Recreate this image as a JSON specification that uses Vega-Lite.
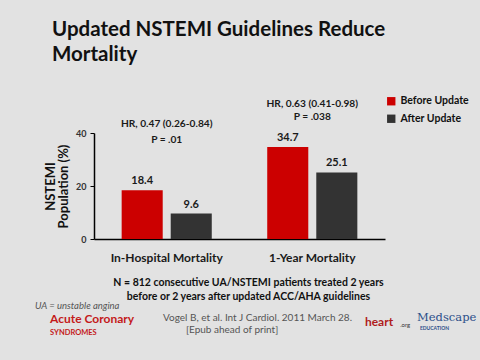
{
  "$schema": "https://vega.github.io/schema/vega-lite/v6.json",
  "width": 291,
  "height": 106,
  "autosize": {"type": "none"},
  "padding": {"left": 94, "top": 133, "right": 95, "bottom": 121},
  "background": "#e2e2e2",
  "title": {
    "text": ["Updated NSTEMI Guidelines Reduce", "Mortality"],
    "anchor": "start",
    "frame": "group",
    "font": "Lato",
    "fontSize": 20.5,
    "fontWeight": "bold",
    "color": "#111111",
    "lineHeight": 25,
    "dx": -42,
    "dy": -21,
    "offset": 10
  },
  "config": {
    "view": {"stroke": null},
    "font": "Lato",
    "text": {"font": "Lato"}
  },
  "datasets": {
    "bars": [
      {"outcome": "In-Hospital Mortality", "period": "Before Update", "value": 18.4},
      {"outcome": "In-Hospital Mortality", "period": "After Update", "value": 9.6},
      {"outcome": "1-Year Mortality", "period": "Before Update", "value": 34.7},
      {"outcome": "1-Year Mortality", "period": "After Update", "value": 25.1}
    ],
    "hr": [
      {"outcome": "In-Hospital Mortality", "y": 43.4, "label": "HR, 0.47 (0.26-0.84)"},
      {"outcome": "In-Hospital Mortality", "y": 37.4, "label": "P = .01"},
      {"outcome": "1-Year Mortality", "y": 50.9, "label": "HR, 0.63 (0.41-0.98)"},
      {"outcome": "1-Year Mortality", "y": 46.0, "label": "P = .038"}
    ],
    "ua": [{"x": -20.3, "y": -25.1, "label": "UA = unstable angina"}],
    "logo1": [{"x": -15.1, "y": -30.3, "label": "Acute Coronary"}],
    "logo1b": [{"x": -15.1, "y": -35.6, "label": "SYNDROMES"}],
    "cite": [
      {"x": 23.7, "y": -29.8, "label": "Vogel B, et al. Int J Cardiol. 2011 March 28."},
      {"x": 31.6, "y": -34.3, "label": "[Epub ahead of print]"}
    ],
    "logo2": [{"x": 93.1, "y": -31.3, "label": "heart"}],
    "logo2b": [{"x": 105.2, "y": -32.3, "label": ".org"}],
    "logo3": [{"x": 111.0, "y": -29.8, "label": "Medscape"}],
    "logo3b": [{"x": 112.0, "y": -33.6, "label": "EDUCATION"}]
  },
  "layer": [
    {
      "layer": [
        {
          "data": {"name": "bars"},
          "mark": {"type": "bar"},
          "encoding": {
            "x": {
              "field": "outcome",
              "type": "nominal",
              "sort": ["In-Hospital Mortality", "1-Year Mortality"],
              "scale": {"paddingInner": 0.381, "paddingOuter": 0.19},
              "axis": {
                "title": ["N = 812 consecutive UA/NSTEMI patients treated 2 years", "before or 2 years after updated ACC/AHA guidelines"],
                "titleFont": "Lato",
                "titleFontSize": 10.5,
                "titleFontWeight": "bold",
                "titleColor": "#111111",
                "titleLineHeight": 14,
                "titlePadding": 14,
                "titleX": 154,
                "labelAngle": 0,
                "labelFont": "Lato",
                "labelFontSize": 12,
                "labelFontWeight": "bold",
                "labelColor": "#1a1a1a",
                "labelPadding": 13,
                "ticks": false,
                "domainColor": "#000000",
                "domainWidth": 1.5
              }
            },
            "xOffset": {
              "field": "period",
              "type": "nominal",
              "sort": ["Before Update", "After Update"],
              "scale": {"paddingInner": 0.163, "paddingOuter": 0}
            },
            "y": {
              "field": "value",
              "type": "quantitative",
              "scale": {"domain": [0, 40], "nice": false},
              "axis": {
                "values": [0, 20, 40],
                "grid": false,
                "title": ["NSTEMI", "Population (%)"],
                "titleFont": "Lato",
                "titleFontSize": 13,
                "titleFontWeight": "bold",
                "titleColor": "#111111",
                "titleLineHeight": 13,
                "titlePadding": 5,
                "labelFont": "Lato",
                "labelFontSize": 9,
                "labelFontWeight": "bold",
                "labelColor": "#333333",
                "labelPadding": 4,
                "tickSize": 4,
                "tickColor": "#000000",
                "domainColor": "#000000",
                "domainWidth": 1.5
              }
            },
            "color": {
              "field": "period",
              "type": "nominal",
              "scale": {"domain": ["Before Update", "After Update"], "range": ["#cc0000", "#333333"]},
              "legend": {
                "title": null,
                "orient": "none",
                "legendX": 292,
                "legendY": -37,
                "symbolType": "square",
                "symbolSize": 70,
                "symbolStrokeWidth": 0,
                "labelFont": "Lato",
                "labelFontSize": 10.5,
                "labelFontWeight": "bold",
                "labelColor": "#111111",
                "rowPadding": 6.5,
                "labelOffset": 4
              }
            }
          }
        },
        {
          "data": {"name": "bars"},
          "mark": {"type": "text", "baseline": "bottom", "dy": -4, "fontSize": 11, "fontWeight": "bold", "color": "#1a1a1a"},
          "encoding": {
            "x": {"field": "outcome", "type": "nominal", "sort": ["In-Hospital Mortality", "1-Year Mortality"]},
            "xOffset": {"field": "period", "type": "nominal", "sort": ["Before Update", "After Update"]},
            "y": {"field": "value", "type": "quantitative", "scale": {"domain": [0, 40], "nice": false}},
            "text": {"field": "value", "type": "quantitative", "format": ".1f"}
          }
        },
        {
          "data": {"name": "hr"},
          "mark": {"type": "text", "baseline": "middle", "fontSize": 10.2, "fontWeight": "bold", "color": "#1a1a1a"},
          "encoding": {
            "x": {"field": "outcome", "type": "nominal", "sort": ["In-Hospital Mortality", "1-Year Mortality"]},
            "y": {"field": "y", "type": "quantitative", "scale": {"domain": [0, 40], "nice": false}},
            "text": {"field": "label"}
          }
        }
      ]
    },
    {
      "encoding": {
        "x": {"field": "x", "type": "quantitative", "scale": {"domain": [0, 100], "nice": false, "zero": false}, "axis": null},
        "y": {"field": "y", "type": "quantitative", "scale": {"domain": [0, 40], "nice": false}},
        "text": {"field": "label"}
      },
      "layer": [
        {"data": {"name": "ua"}, "mark": {"type": "text", "align": "left", "baseline": "middle", "fontSize": 9.5, "fontStyle": "italic", "color": "#555555"}},
        {"data": {"name": "logo1"}, "mark": {"type": "text", "align": "left", "baseline": "middle", "fontSize": 12, "fontWeight": "bold", "color": "#c41a1a"}},
        {"data": {"name": "logo1b"}, "mark": {"type": "text", "align": "left", "baseline": "middle", "fontSize": 7.5, "fontWeight": "bold", "color": "#c41a1a"}},
        {"data": {"name": "cite"}, "mark": {"type": "text", "align": "left", "baseline": "middle", "fontSize": 10, "color": "#555555"}},
        {"data": {"name": "logo2"}, "mark": {"type": "text", "align": "left", "baseline": "middle", "fontSize": 12, "fontWeight": "bold", "color": "#b01c1c"}},
        {"data": {"name": "logo2b"}, "mark": {"type": "text", "align": "left", "baseline": "middle", "fontSize": 6, "color": "#333333"}},
        {"data": {"name": "logo3"}, "mark": {"type": "text", "align": "left", "baseline": "middle", "font": "DejaVu Serif", "fontSize": 11.5, "color": "#2c4f8a"}},
        {"data": {"name": "logo3b"}, "mark": {"type": "text", "align": "left", "baseline": "middle", "fontSize": 5, "fontWeight": "bold", "color": "#2c4f8a"}}
      ]
    }
  ],
  "resolve": {"scale": {"x": "independent"}, "axis": {"x": "independent"}}
}
